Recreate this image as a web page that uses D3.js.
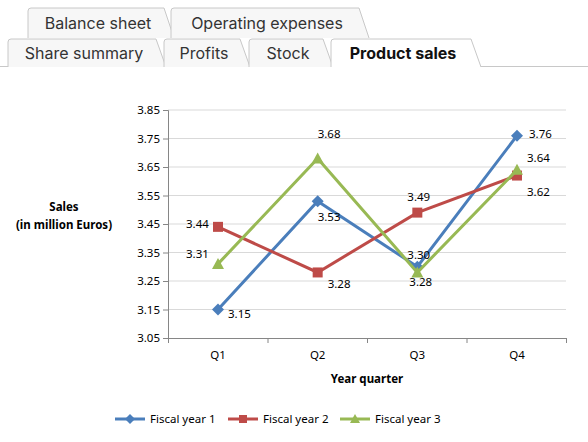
<!DOCTYPE html>
<html><head><meta charset="utf-8">
<script src="https://cdn.jsdelivr.net/npm/d3@7"></script>
<style>body{margin:0;background:#fff;font-family:Inter,"Open Sans",sans-serif}</style>
</head><body><svg id="c" width="588" height="442"></svg>
<script>
var quarters = ['Q1','Q2','Q3','Q4'];
var seriesNames = ['Fiscal year 1','Fiscal year 2','Fiscal year 3'];
var fy1 = [3.15, 3.53, 3.30, 3.76];
var fy2 = [3.44, 3.28, 3.49, 3.62];
var fy3 = [3.31, 3.68, 3.28, 3.64];
var yTicks = [3.05,3.15,3.25,3.35,3.45,3.55,3.65,3.75,3.85];
var colors = ['#4a7ebb','#be4b48','#98b954'];
var tabsRow1 = ['Balance sheet','Operating expenses'];
var tabsRow2 = ['Share summary','Profits','Stock','Product sales'];

var svg = d3.select('#c');
// tabs
function tab(x, y, w, h, label, active){
  var g = svg.append('g');
  g.append('path').attr('d','M'+x+','+(y+h)+'V'+(y+3)+'Q'+x+','+y+' '+(x+3)+','+y+'H'+(x+w-8)+'L'+(x+w+2)+','+(y+h))
    .attr('fill', active?'#fff':'#f7f7f7').attr('stroke','#c8c8c8');
  g.append('text').attr('x', x+(w-4)/2).attr('y', y+h/2+6).attr('text-anchor','middle')
    .attr('font-size',16).attr('font-weight',active?'bold':'normal').attr('fill',active?'#111':'#333').text(label);
}
tab(28,8,144,30,tabsRow1[0]); tab(171,8,196,30,tabsRow1[1]);
svg.append('line').attr('x1',0).attr('x2',588).attr('y1',66.5).attr('y2',66.5).attr('stroke','#c8c8c8');
var r2 = [[8,156],[164,84],[249,82],[331,148]];
tabsRow2.forEach(function(t,i){ tab(r2[i][0],39,r2[i][1],28,t,i==3); });

var x = d3.scalePoint().domain(quarters).range([218,517]);
var y = d3.scaleLinear().domain([3.05,3.85]).range([338,110]);
var fontS = 'font-size:11.5px;font-family:"Noto Sans",sans-serif';
svg.append('g').selectAll('line').data(yTicks.slice(1)).join('line')
  .attr('x1',168).attr('x2',566).attr('y1',d=>y(d)).attr('y2',d=>y(d)).attr('stroke','#d9d9d9');
var yAx = svg.append('g').attr('transform','translate(168,0)')
  .call(d3.axisLeft(y).tickValues(yTicks).tickFormat(d3.format('.2f')).tickSize(5));
var xs = d3.scaleLinear().domain([0,4]).range([168,566]);
var xAx = svg.append('g').attr('transform','translate(0,338)')
  .call(d3.axisBottom(xs).ticks(4).tickFormat('').tickSize(5));
[yAx,xAx].forEach(a=>{a.selectAll('path,line').attr('stroke','#868686');a.selectAll('text').attr('style',fontS).attr('fill','#000');});
svg.append('g').selectAll('text').data(quarters).join('text').attr('x',d=>x(d)).attr('y',359)
  .attr('text-anchor','middle').attr('style',fontS).text(d=>d);
svg.append('text').attr('x',367).attr('y',383).attr('text-anchor','middle').attr('style',fontS).attr('font-weight','bold').text('Year quarter');
svg.append('text').attr('x',64).attr('y',211).attr('text-anchor','middle').attr('style',fontS).attr('font-weight','bold').text('Sales');
svg.append('text').attr('x',64).attr('y',229).attr('text-anchor','middle').attr('style',fontS).attr('font-weight','bold').text('(in million Euros)');

var data = [fy1,fy2,fy3];
var labelOff = [[[10,4],[0,16],[-10,-12],[12,-2]],[[-32,-3],[10,12],[-10,-16],[10,16]],[[-32,-10],[0,-24],[-8,10],[10,-12]]];
var line = d3.line().x((d,i)=>x(quarters[i])).y(d=>y(d));
function marker(g,k,cx,cy,s){
  if(k==0) g.append('path').attr('d','M'+cx+','+(cy-s)+'L'+(cx+s)+','+cy+'L'+cx+','+(cy+s)+'L'+(cx-s)+','+cy+'Z').attr('fill',colors[k]);
  else if(k==1) g.append('rect').attr('x',cx-s+1).attr('y',cy-s+1).attr('width',2*s-2).attr('height',2*s-2).attr('fill',colors[k]);
  else g.append('path').attr('d','M'+cx+','+(cy-s)+'L'+(cx+s)+','+(cy+s-1)+'L'+(cx-s)+','+(cy+s-1)+'Z').attr('fill',colors[k]);
}
data.forEach(function(s,k){
  var g = svg.append('g');
  g.append('path').datum(s).attr('d',line).attr('fill','none').attr('stroke',colors[k]).attr('stroke-width',3);
  s.forEach(function(v,i){
    marker(g,k,x(quarters[i]),y(v),6);
    var o = labelOff[k][i];
    g.append('text').attr('x',x(quarters[i])+o[0]).attr('y',y(v)+o[1]+4).attr('style',fontS).text(v.toFixed(2));
  });
});
// legend
var lx = [115,228,340];
seriesNames.forEach(function(n,k){
  var g = svg.append('g');
  g.append('line').attr('x1',lx[k]).attr('x2',lx[k]+30).attr('y1',419).attr('y2',419).attr('stroke',colors[k]).attr('stroke-width',3);
  marker(g,k,lx[k]+15,419,5);
  g.append('text').attr('x',lx[k]+35).attr('y',423).attr('style',fontS).text(n);
});
</script></body></html>
